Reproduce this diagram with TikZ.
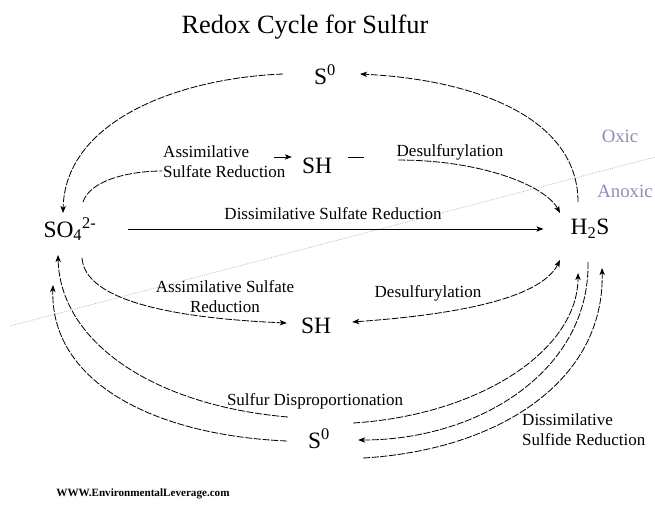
\documentclass[tikz,border=0pt]{standalone}
\usepackage{fontspec}
\setmainfont{Liberation Serif}
\usetikzlibrary{arrows.meta,calc}
\definecolor{czona}{HTML}{8A8FB5}
\definecolor{czonal}{HTML}{A3AACB}
\tikzset{
  especie/.style={inner sep=0pt,font=\fontsize{20}{22}\selectfont},
  proc/.style={inner sep=0pt,align=center,font=\fontsize{14.5}{17}\selectfont},
  zona/.style={inner sep=0pt,text=czona,font=\fontsize{16}{18}\selectfont},
  linea/.style={draw=black,line width=0.7pt,dash pattern=on 6pt off 1.4pt},
  flecha/.style={linea,-{Stealth[length=6pt,width=4.6pt,inset=1.6pt]}},
  doble/.style={linea,{Stealth[length=6pt,width=4.6pt,inset=1.6pt]}-{Stealth[length=6pt,width=4.6pt,inset=1.6pt]}},
  recta/.style={draw=black,line width=0.7pt,-{Stealth[length=6pt,width=4.6pt,inset=1.6pt]}},
  limite/.style={draw=czonal,line width=0.6pt,densely dotted},
}
\begin{document}
\begin{tikzpicture}[x=0.03cm,y=-0.03cm]
\useasboundingbox (0,0) rectangle (655,504);

\coordinate (la) at (10,326);
\coordinate (lb) at (655,157);
\draw[limite] (la) -- (lb);

\node[inner sep=0pt,font=\fontsize{22.5}{26}\selectfont] (titulo) at (305,27) {Redox Cycle for Sulfur};

\node[especie] (s0a) at (325,75)  {S\textsuperscript{0}};
\node[especie] (sha) at (317,166) {SH};
\node[especie] (so4) at (70,229)  {SO\textsubscript{4}\textsuperscript{2-}};
\node[especie] (hs)  at (590,229) {H\textsubscript{2}S};
\node[especie] (shb) at (316,326) {SH};
\node[especie] (s0b) at (319,439) {S\textsuperscript{0}};

\node[proc,align=left,anchor=west] (asima) at (163,162) {Assimilative\\Sulfate Reduction};
\node[proc] (desa)  at (450,152) {Desulfurylation};
\node[proc] (disa)  at (333,214) {Dissimilative Sulfate Reduction};
\node[proc] (asimb) at (225,297) {Assimilative Sulfate\\Reduction};
\node[proc] (desb)  at (428,293) {Desulfurylation};
\node[proc] (disp)  at (315,401) {Sulfur Disproportionation};
\node[proc,align=left,anchor=west] (dsr) at (522,430) {Dissimilative\\Sulfide Reduction};
\node[zona] (oxic)   at (620,136) {Oxic};
\node[zona] (anoxic) at (625,191) {Anoxic};
\node[inner sep=0pt,font=\bfseries\fontsize{9.5}{10}\selectfont] (web) at (143,494) {WWW.EnvironmentalLeverage.com};

\draw[flecha] ($(s0a)+(-42,-1)$) .. controls (180,78) and (65,120) .. ($(so4)+(-7,-16)$);
\draw[flecha] ($(hs)+(-12,-27)$) .. controls (578,120) and (480,80) .. ($(s0a)+(35,-1)$);
\draw[linea] ($(so4)+(13,-27)$) .. controls (90,180) and (130,171) .. ($(asima.west)+(-1,9)$);
\draw[recta] ($(sha.west)+(-28,-9)$) -- ($(sha.west)+(-10,-9)$);
\draw[linea,solid] ($(sha.east)+(16,-9)$) -- ($(sha.east)+(32,-9)$);
\draw[flecha] ($(desa.south west)+(2,0)$) .. controls (480,160) and (545,185) .. ($(hs)+(-30,-16)$);
\draw[recta,shorten <=27pt,shorten >=23pt] (so4.east) -- (so4.east -| hs.west);

\draw[flecha] ($(so4)+(12,29)$) .. controls (85,300) and (170,318) .. ($(shb.west)+(-14,-3)$);
\draw[doble] ($(shb.east)+(21,-4)$) .. controls (450,315) and (540,300) .. ($(hs)+(-30,31)$);
\draw[flecha] ($(s0b.west)+(-20,-22)$) .. controls (150,405) and (60,340) .. ($(so4)+(-12,26)$);
\draw[flecha] ($(s0b.west)+(-21,2)$) .. controls (150,435) and (50,380) .. ($(so4)+(-17,56)$);
\draw[flecha] ($(s0b.east)+(23,-16)$) .. controls (480,415) and (578,350) .. ($(hs)+(-12,44)$);
\draw[flecha] ($(hs)+(-2,33)$) .. controls (590,370) and (480,440) .. ($(s0b.east)+(28,1)$);
\draw[flecha] ($(s0b.east)+(33,19)$) .. controls (500,450) and (605,380) .. ($(hs)+(12,39)$);

\end{tikzpicture}
\end{document}
